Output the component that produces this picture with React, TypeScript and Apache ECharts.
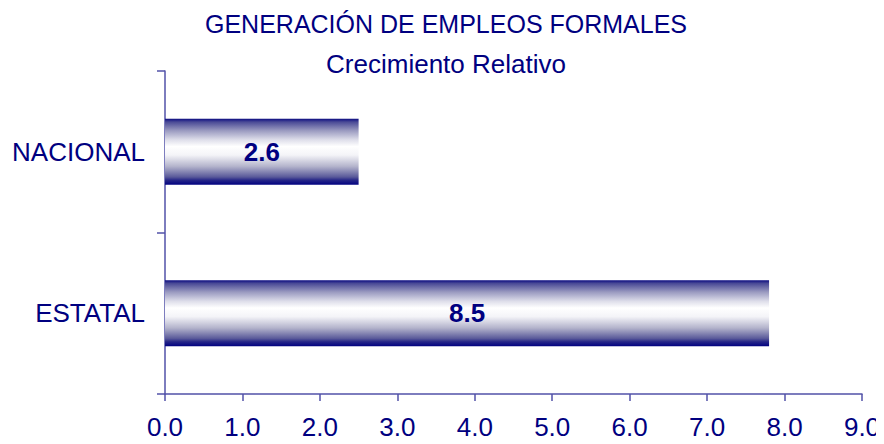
import React, { useEffect, useRef } from "react";
import * as echarts from "echarts";

const titleText = "GENERACIÓN DE EMPLEOS FORMALES";
const subtitleText = "Crecimiento Relativo";
const categories = ["NACIONAL", "ESTATAL"];
const barValues = [2.5, 7.8];
const barLabels = ["2.6", "8.5"];
const xTicks = [0, 1, 2, 3, 4, 5, 6, 7, 8, 9];

const NAVY = "#000080";
const AXIS = "#5252a8";
const FONT = "'Liberation Sans', Arial, sans-serif";

export default function App() {
  const ref = useRef<HTMLDivElement>(null);
  useEffect(() => {
    if (!ref.current) return;
    const chart = echarts.init(ref.current, undefined, { renderer: "svg" });
    const grad = new echarts.graphic.LinearGradient(0, 0, 0, 1, [
      { offset: 0, color: "#0a0a80" },
      { offset: 0.05, color: "#4a4a96" },
      { offset: 0.18, color: "#9a9ac0" },
      { offset: 0.32, color: "#dedeea" },
      { offset: 0.42, color: "#ffffff" },
      { offset: 0.55, color: "#f4f4f8" },
      { offset: 0.72, color: "#b4b4cc" },
      { offset: 0.88, color: "#5a5a9a" },
      { offset: 0.93, color: "#262688" },
      { offset: 1, color: "#000080" },
    ]);
    chart.setOption({
      animation: false,
      backgroundColor: "#ffffff",
      title: [
        {
          text: titleText,
          left: "center",
          top: 3,
          padding: [0, 0, 0, 14],
          textStyle: { color: NAVY, fontFamily: FONT, fontSize: 25, fontWeight: "normal" },
        },
        {
          text: subtitleText,
          left: "center",
          top: 43,
          padding: [0, 0, 0, 12],
          textStyle: { color: NAVY, fontFamily: FONT, fontSize: 26, fontWeight: "normal" },
        },
      ],
      grid: {
        left: 157,
        right: 22,
        top: 63,
        bottom: 50,
        containLabel: false,
        outerBoundsMode: "none",
      },
      xAxis: {
        type: "value",
        min: xTicks[0],
        max: xTicks[xTicks.length - 1],
        interval: 1,
        axisLine: { show: true, lineStyle: { color: AXIS, width: 1.5 } },
        axisTick: { show: true, length: 7, lineStyle: { color: AXIS, width: 1.5 } },
        splitLine: { show: false },
        axisLabel: {
          color: NAVY,
          fontFamily: FONT,
          fontSize: 26,
          margin: 20,
          formatter: (v: number) => v.toFixed(1),
        },
      },
      yAxis: {
        type: "category",
        inverse: true,
        data: categories,
        axisLine: { show: true, lineStyle: { color: AXIS, width: 1.5 } },
        axisTick: { show: true, length: 8, lineStyle: { color: AXIS, width: 1.5 } },
        axisLabel: { color: NAVY, fontFamily: FONT, fontSize: 26, margin: 20 },
      },
      series: [
        {
          type: "bar",
          data: barValues,
          barWidth: "41%",
          itemStyle: { color: grad },
          label: {
            show: true,
            position: "inside",
            color: NAVY,
            fontFamily: FONT,
            fontSize: 26,
            fontWeight: "bold",
            formatter: (p: any) => barLabels[p.dataIndex],
          },
        },
      ],
    });
    return () => chart.dispose();
  }, []);
  return <div ref={ref} style={{ width: 876, height: 436 }} />;
}
